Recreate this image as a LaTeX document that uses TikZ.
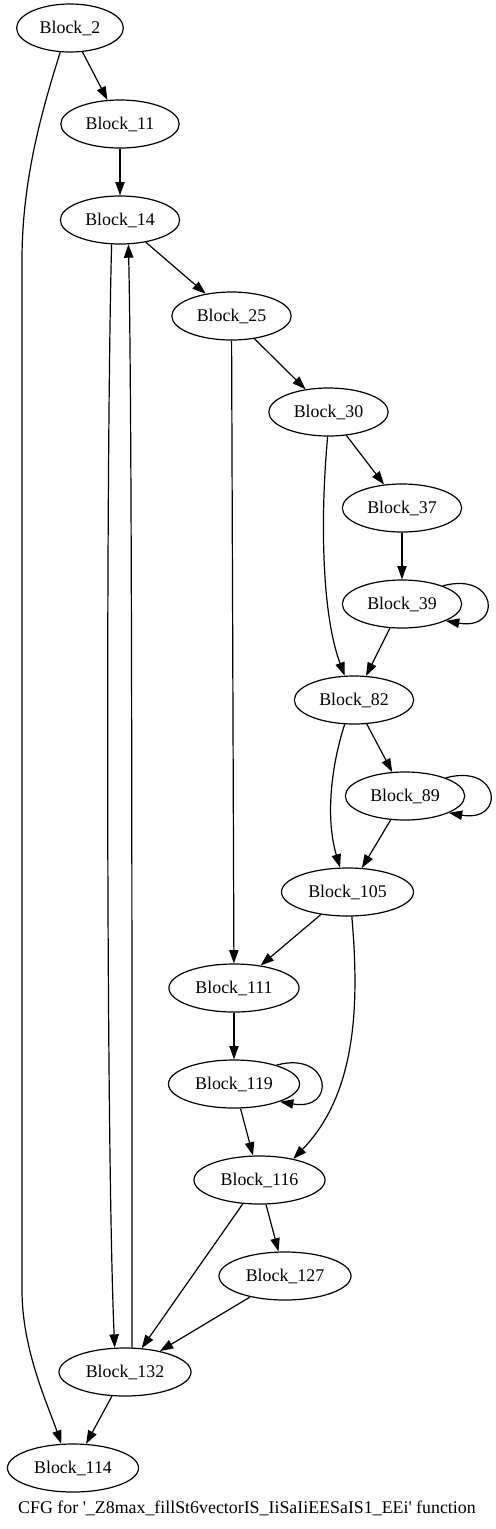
\documentclass[tikz,border=0pt]{standalone}
\usepackage{fontspec}
\setmainfont{Liberation Serif}
\usepackage{tikz}
\usetikzlibrary{shapes.geometric, arrows.meta}

\begin{document}
\begin{tikzpicture}[
	x=0.75pt, y=0.75pt,
	block/.style={ellipse, draw, line width=0.9pt, minimum height=36pt, inner xsep=5.6pt,
	              inner ysep=2pt, font=\fontsize{13.4}{16}\selectfont},
	arr/.style={-{Triangle[length=10pt, width=7pt]}, line width=0.9pt},
	caption/.style={font=\fontsize{13.4}{16}\selectfont, inner sep=0pt}
	]
	\useasboundingbox (0,0) rectangle (496,-1529);

	\node[block] (b2) at (70,-28) {Block\_2};
	\node[block] (b11) at (120,-124) {Block\_11};
	\node[block] (b14) at (120,-220) {Block\_14};
	\node[block] (b25) at (231.5,-316) {Block\_25};
	\node[block] (b30) at (328.5,-412) {Block\_30};
	\node[block] (b37) at (402,-508) {Block\_37};
	\node[block] (b39) at (402,-604) {Block\_39};
	\node[block] (b82) at (354,-700) {Block\_82};
	\node[block] (b89) at (405,-796) {Block\_89};
	\node[block] (b105) at (347.5,-892) {Block\_105};
	\node[block] (b111) at (234,-988) {Block\_111};
	\node[block] (b119) at (234,-1084) {Block\_119};
	\node[block] (b116) at (259.5,-1180) {Block\_116};
	\node[block] (b127) at (285,-1276) {Block\_127};
	\node[block] (b132) at (125,-1372) {Block\_132};
	\node[block] (b114) at (73,-1468) {Block\_114};
	\node[caption] (title) at (247,-1508)
		{CFG for \textquotesingle\_Z8max\_fillSt6vectorIS\_IiSaIiEESaIS1\_EEi\textquotesingle{} function};

	\draw[arr] (b2) -- (b11);
	\draw[arr] (b2.-112) .. controls (42,-110) and (22,-180) .. (22,-260) -- (22,-1290)
		.. controls (22,-1350) and (48,-1405) .. (b114.116);
	\draw[arr] (b11) -- (b14);
	\draw[arr] (b14) -- (b25);
	\draw[arr] (b14.-109) .. controls (106,-450) and (106,-1150) .. (b132.113);
	\draw[arr] (b25) -- (b30);
	\draw[arr] (b25) -- (b111);
	\draw[arr] (b30) -- (b37);
	\draw[arr] (b30.-92) .. controls (320,-520) and (322,-615) .. (b82.111);
	\draw[arr] (b37) -- (b39);
	\draw[arr] (b39.24) .. controls +(55,15) and +(57,-10) .. (b39.-21);
	\draw[arr] (b39) -- (b82);
	\draw[arr] (b82) -- (b89);
	\draw[arr] (b82.-111) .. controls (330,-770) and (326,-820) .. (b105.107);
	\draw[arr] (b89.24) .. controls +(55,15) and +(57,-10) .. (b89.-21);
	\draw[arr] (b89) -- (b105);
	\draw[arr] (b105) -- (b111);
	\draw[arr] (b105.-80) .. controls (360,-1010) and (355,-1095) .. (b116.32);
	\draw[arr] (b111) -- (b119);
	\draw[arr] (b119.24) .. controls +(55,15) and +(57,-10) .. (b119.-21);
	\draw[arr] (b119) -- (b116);
	\draw[arr] (b116) -- (b127);
	\draw[arr] (b116) -- (b132);
	\draw[arr] (b127) -- (b132);
	\draw[arr] (b132.74) .. controls (132,-900) and (132,-400) .. (b14.-71);
	\draw[arr] (b132) -- (b114);
\end{tikzpicture}
\end{document}
